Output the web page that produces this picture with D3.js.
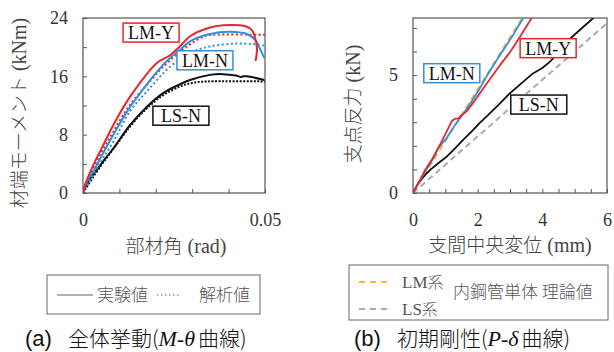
<!DOCTYPE html>
<html>
<head>
<meta charset="utf-8">
<script src="https://cdn.jsdelivr.net/npm/d3@7"></script>
<style>
  body { margin: 0; background: #fff; }
  svg { display: block; }
  .cjk { font-family: "Noto Sans CJK JP", sans-serif; }
  .serif { font-family: "Liberation Serif", "DejaVu Serif", serif; }
</style>
</head>
<body>
<svg id="chart" width="614" height="352"></svg>
<script>

// ---- (a) M-theta data ----
const thetaTicks = [0, 0.01, 0.02, 0.03, 0.04, 0.05];
const thetaLabels = [0, 0.05];
const mTicks = [0, 4, 8, 12, 16, 20, 24];
const mLabels = [0, 8, 16, 24];

const lmY_exp = [[0,0],[0.00055,1.1],[0.0028,3.8],[0.0056,6.6],[0.0083,9.3],[0.012,12.5],[0.0152,14.8],[0.0202,17.8],[0.0239,18.9],[0.0266,20.1],[0.0294,21.5],[0.0349,22.7],[0.0385,23.0],[0.043,23.0],[0.045,22.8],[0.0463,22.4],[0.0472,21.4],[0.0478,19.8],[0.0474,18.1]];
const lmY_ana = [[0,0],[0.001,1.5],[0.0047,5.2],[0.0083,8.4],[0.0129,12.1],[0.0175,14.8],[0.022,17.3],[0.027,19.5],[0.031,20.9],[0.034,21.6],[0.036,21.7],[0.05,21.7]];
const lmN_exp = [[0,0],[0.0005,1],[0.0033,3.4],[0.006,5.9],[0.0088,8.4],[0.0124,11.4],[0.0157,13.7],[0.0203,16.6],[0.0239,18.5],[0.0266,19.6],[0.0294,20.8],[0.0349,21.8],[0.0404,22.1],[0.045,21.8],[0.0473,21],[0.0486,19.8],[0.0498,18.5]];
const lmN_ana = [[0,0],[0.0038,3.4],[0.0083,7.0],[0.0129,11.2],[0.0175,13.9],[0.0239,17.3],[0.0294,19.2],[0.0349,20.1],[0.0422,20.5],[0.047,20.4],[0.05,20.2]];
const lsN_exp = [[0,0],[0.00055,0.9],[0.0047,3.8],[0.0083,6.1],[0.0129,9.3],[0.0175,11.8],[0.022,13.7],[0.0266,14.9],[0.0294,15.5],[0.0349,16.2],[0.0385,16.3],[0.042,16.1],[0.0435,15.9],[0.044,16.0],[0.045,16.0],[0.0498,15.5]];
const lsN_ana = [[0,0],[0.0047,3.6],[0.0083,6.0],[0.0129,9.1],[0.0175,11.6],[0.022,13.4],[0.0266,14.6],[0.03,15.1],[0.034,15.3],[0.05,15.3]];

// ---- (b) P-delta data ----
const deltaTicks = d3.range(0, 6.01, 0.5);
const deltaLabels = [0, 2, 4, 6];
const pTicks = [0, 1, 2, 3, 4, 5, 6, 7];
const pLabels = [0, 5];

const pd_lmN = [[0,0],[0.2,0.5],[0.37,0.9],[0.6,1.4],[0.78,1.9],[1.05,2.35],[1.3,2.88],[1.55,3.35],[1.8,3.85],[2.05,4.4],[2.3,5.0],[2.69,5.85],[3.05,6.6],[3.4,7.4],[3.6,7.8]];
const pd_lmY = [[0,0],[0.2,0.5],[0.37,0.97],[0.6,1.45],[0.78,1.9],[1.04,2.6],[1.2,3.05],[1.3,3.15],[1.4,3.15],[1.5,3.3],[1.65,3.45],[1.81,3.73],[2.05,4.2],[2.32,4.72],[2.69,5.42],[2.99,5.95],[3.3,6.6],[3.66,7.4],[3.8,7.7]];
const pd_lsN = [[0,0],[0.15,0.4],[0.37,0.76],[0.55,1.0],[0.78,1.26],[1.05,1.55],[1.3,1.89],[1.55,2.25],[1.81,2.6],[2.05,2.95],[2.32,3.3],[2.69,3.8],[2.99,4.22],[3.35,4.65],[3.71,5.07],[4.0,5.3],[4.23,5.56],[4.5,5.95],[4.74,6.4],[5.15,6.9],[5.56,7.4],[5.7,7.6]];
const theoryLM = [[0,0],[3.6,7.92]];
const theoryLS = [[0,0],[6,7.2]];

// label boxes (data units)
const labelsA = [{t:'LM-Y', x:0.0187, y:22.0, c:'#e8262b'}, {t:'LM-N', x:0.0335, y:18.2, c:'#2f90e0'}, {t:'LS-N', x:0.0269, y:10.6, c:'#111'}];
const labelsB = [{t:'LM-N', x:1.2, y:5.08, c:'#2f90e0'}, {t:'LM-Y', x:4.18, y:6.14, c:'#e8262b'}, {t:'LS-N', x:3.89, y:3.75, c:'#111'}];

const RED = '#e8262b', BLUE = '#2f90e0', BLACK = '#111', ORANGE = '#f6b936', GRAY = '#aaaaaa';

const svg = d3.select('#chart');

function panel(id, xs, ys, xt, xl, yt, yl, xfmt, yfmt) {
	let g = svg.append('g');
	let [x0, x1] = xs.range(), [y0, y1] = ys.range();
	g.append('clipPath').attr('id', id)
		.append('rect').attr('x', x0).attr('y', y1).attr('width', x1 - x0).attr('height', y0 - y1);

	let xa = g.append('g').attr('transform', `translate(0,${y0})`)
		.call(d3.axisBottom(xs).tickValues(xt).tickSize(-4).tickPadding(20)
			.tickFormat(d => xl.some(v => Math.abs(v - d) < 1e-9) ? xfmt(d) : ''));
	let ya = g.append('g').attr('transform', `translate(${x0},0)`)
		.call(d3.axisLeft(ys).tickValues(yt).tickSize(-4).tickPadding(15)
			.tickFormat(d => yl.includes(d) ? yfmt(d) : ''));
	for (let a of [xa, ya]) {
		a.select('.domain').remove();
		a.selectAll('line').attr('stroke', '#555').attr('stroke-width', 1);
		a.selectAll('text').attr('class', 'serif').attr('font-size', 18).attr('fill', '#333');
	}
	g.append('rect').attr('x', x0).attr('y', y1).attr('width', x1 - x0).attr('height', y0 - y1)
		.attr('fill', 'none').attr('stroke', '#555').attr('stroke-width', 1.2);
	let plot = g.append('g').attr('clip-path', `url(#${id})`);
	return plot;
}

function drawLine(plot, xs, ys, data, color, width, dash, smooth) {
	let line = d3.line().x(d => xs(d[0])).y(d => ys(d[1]))
		.curve(smooth ? d3.curveCatmullRom : d3.curveLinear);
	plot.append('path').datum(data).attr('d', line)
		.attr('fill', 'none').attr('stroke', color).attr('stroke-width', width)
		.attr('stroke-dasharray', dash || null).attr('stroke-linejoin', 'round');
}

function drawLabels(plot, xs, ys, labels) {
	for (let l of labels) {
		let cx = xs(l.x), cy = ys(l.y);
		plot.append('rect').attr('x', cx - 28).attr('y', cy - 9.5).attr('width', 56).attr('height', 19)
			.attr('fill', '#fff').attr('stroke', l.c).attr('stroke-width', 1.5);
		plot.append('text').attr('class', 'serif').attr('x', cx).attr('y', cy).attr('dy', '0.36em')
			.attr('text-anchor', 'middle').attr('font-size', 18).attr('fill', '#111').text(l.t);
	}
}

// ---- panel (a) ----
let xA = d3.scaleLinear([0, 0.05], [83, 265]);
let yA = d3.scaleLinear([0, 24], [193, 18]);
let pA = panel('clipA', xA, yA, thetaTicks, thetaLabels, mTicks, mLabels, d => d === 0 ? '0' : d3.format('.2f')(d), d => d);
drawLine(pA, xA, yA, lsN_ana, BLACK, 2, '2,1.5', true);
drawLine(pA, xA, yA, lsN_exp, BLACK, 2, null, true);
drawLine(pA, xA, yA, lmN_ana, BLUE, 2, '2,2.5', true);
drawLine(pA, xA, yA, lmY_ana, RED, 2, '2,2.5', true);
drawLine(pA, xA, yA, lmN_exp, BLUE, 2, null, true);
drawLine(pA, xA, yA, lmY_exp, RED, 2, null, true);
drawLabels(svg, xA, yA, labelsA);

// ---- panel (b) ----
let xB = d3.scaleLinear([0, 6], [413, 607]);
let yB = d3.scaleLinear([0, 7.42], [193, 18]);
let pB = panel('clipB', xB, yB, deltaTicks, deltaLabels, pTicks, pLabels, d => d, d => d);
drawLine(pB, xB, yB, theoryLS, GRAY, 2, '6,4');
drawLine(pB, xB, yB, theoryLM, ORANGE, 2, '6,4');
drawLine(pB, xB, yB, pd_lsN, BLACK, 1.8);
drawLine(pB, xB, yB, pd_lmN, BLUE, 1.8);
drawLine(pB, xB, yB, pd_lmY, RED, 1.8);
drawLabels(svg, xB, yB, labelsB);

// ---- axis titles ----
function title(x, y, jp, unit, rot) {
	let t = svg.append('text').attr('x', x).attr('y', y).attr('dy', '0.35em')
		.attr('text-anchor', 'middle').attr('font-size', 19).attr('fill', '#444');
	if (rot) t.attr('transform', `rotate(-90,${x},${y})`);
	t.append('tspan').attr('class', 'cjk').attr('font-weight', 300).text(jp);
	t.append('tspan').attr('class', 'serif').attr('font-size', 20).text(' ' + unit);
}
title(176, 246, '部材角', '(rad)');
title(19, 113, '材端モーメント', '(kNm)', true);
title(510, 245, '支間中央変位', '(mm)');
title(353, 104, '支点反力', '(kN)', true);

// ---- legend (a) ----
let la = svg.append('g');
la.append('rect').attr('x', 47).attr('y', 275).attr('width', 213).attr('height', 39)
	.attr('fill', '#fff').attr('stroke', '#666').attr('stroke-width', 1);
la.append('line').attr('x1', 57).attr('x2', 93).attr('y1', 295).attr('y2', 295).attr('stroke', '#999').attr('stroke-width', 1.5);
la.append('text').attr('class', 'cjk').attr('font-weight', 300).attr('x', 97).attr('y', 295).attr('dy', '0.36em')
	.attr('font-size', 17).attr('fill', '#555').text('実験値');
la.append('line').attr('x1', 157).attr('x2', 179).attr('y1', 295).attr('y2', 295).attr('stroke', '#999').attr('stroke-width', 1.5).attr('stroke-dasharray', '1.5,2.5');
la.append('text').attr('class', 'cjk').attr('font-weight', 300).attr('x', 199).attr('y', 295).attr('dy', '0.36em')
	.attr('font-size', 17).attr('fill', '#555').text('解析値');

// ---- legend (b) ----
let lb = svg.append('g');
lb.append('rect').attr('x', 349).attr('y', 265).attr('width', 259).attr('height', 55)
	.attr('fill', '#fff').attr('stroke', '#666').attr('stroke-width', 1);
let legB = [{t: 'LM系', c: ORANGE, y: 282}, {t: 'LS系', c: GRAY, y: 309}];
for (let l of legB) {
	lb.append('line').attr('x1', 359).attr('x2', 389).attr('y1', l.y).attr('y2', l.y)
		.attr('stroke', l.c).attr('stroke-width', 2).attr('stroke-dasharray', '6,5');
	let t = lb.append('text').attr('x', 402).attr('y', l.y).attr('dy', '0.36em').attr('font-size', 16).attr('fill', '#555');
	t.append('tspan').attr('class', 'serif').attr('font-size', 17).text(l.t.slice(0, 2));
	t.append('tspan').attr('class', 'cjk').attr('font-weight', 300).text(l.t.slice(2));
}
lb.append('text').attr('class', 'cjk').attr('font-weight', 300).attr('x', 453).attr('y', 292).attr('dy', '0.36em')
	.attr('font-size', 17).attr('fill', '#555').text('内鋼管単体 理論値');

// ---- captions ----
function caption(x, tag, jp, a, b) {
	let t = svg.append('text').attr('x', x).attr('y', 339).attr('dy', '0.35em').attr('font-size', 21).attr('fill', '#111');
	t.append('tspan').attr('font-family', '"Liberation Sans", Arial, sans-serif').attr('font-size', 22).text(tag);
	t.append('tspan').attr('class', 'cjk').attr('font-weight', 300).attr('dx', 16).text(jp + '(');
	t.append('tspan').attr('class', 'serif').attr('font-style', 'italic').attr('font-size', 22).text(a + '-' + b);
	t.append('tspan').attr('class', 'cjk').attr('font-weight', 300).attr('dx', 3).text('曲線)');
}
caption(25, '(a)', '全体挙動', 'M', 'θ');
caption(354, '(b)', '初期剛性', 'P', 'δ');

</script>
</body>
</html>
